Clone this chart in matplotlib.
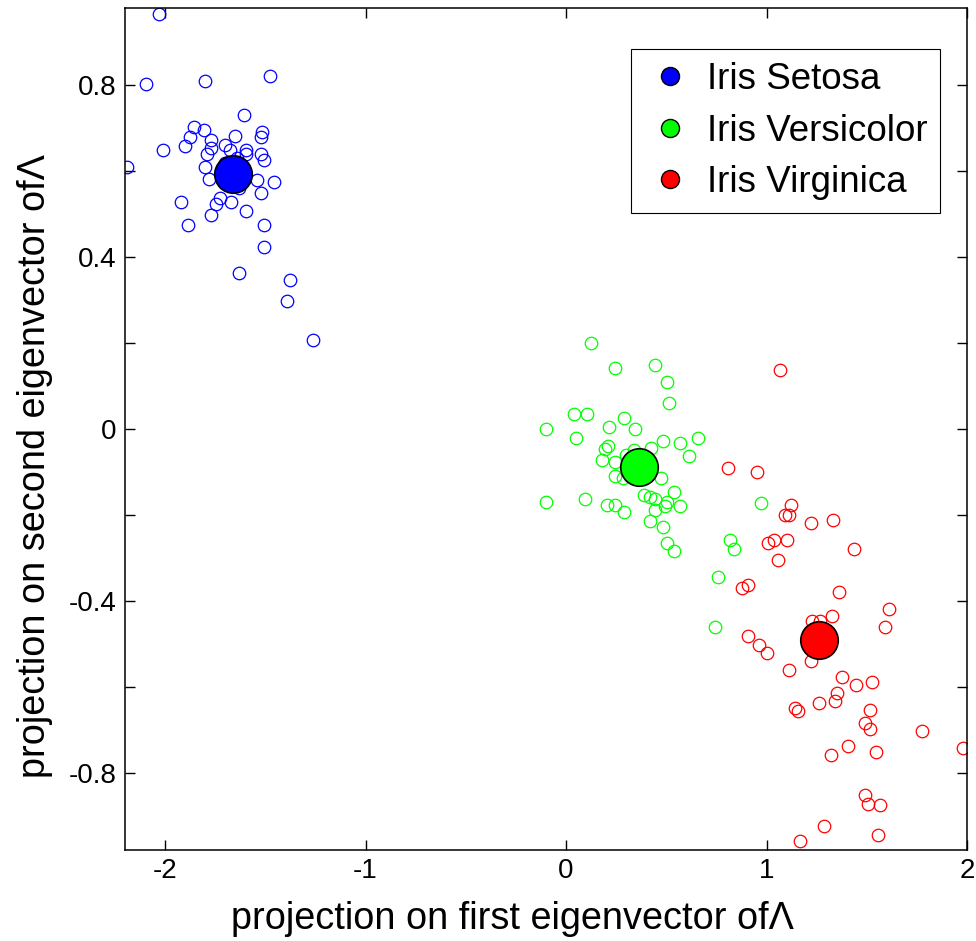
import matplotlib
matplotlib.use('Agg')
import matplotlib.pyplot as plt
from matplotlib.lines import Line2D

plt.rcParams['font.family'] = ['Liberation Sans', 'DejaVu Sans']

CLASSES = ['Iris Setosa', 'Iris Versicolor', 'Iris Virginica']
COLORS = ['#0000ff', '#00ff00', '#ff0000']

# projections (x = first eigenvector, y = second)
setosa_x = [-2.031, -2.093, -1.800, -1.476, -1.606, -1.855, -1.807, -1.875, -1.900, -2.010,
            -1.769, -1.772, -1.792, -1.652, -1.699, -1.676, -1.594, -1.594, -1.516, -1.523,
            -1.521, -1.508, -2.188, -1.800, -1.782, -1.540, -1.458, -1.523, -1.920, -1.727,
            -1.744, -1.669, -1.772, -1.596, -1.885, -1.505, -1.505, -1.633, -1.377, -1.392,
            -1.262, -1.640, -1.700, -1.600, -1.680, -1.630, -1.720, -1.660, -1.620, -1.690]
setosa_y = [0.965, 0.804, 0.809, 0.821, 0.731, 0.702, 0.697, 0.680, 0.659, 0.649,
            0.672, 0.653, 0.640, 0.681, 0.660, 0.649, 0.649, 0.641, 0.692, 0.680,
            0.639, 0.626, 0.609, 0.610, 0.583, 0.579, 0.576, 0.549, 0.528, 0.538,
            0.523, 0.528, 0.497, 0.507, 0.476, 0.476, 0.424, 0.364, 0.346, 0.298,
            0.208, 0.630, 0.620, 0.600, 0.570, 0.560, 0.600, 0.610, 0.580, 0.590]

versicolor_x = [0.123, 0.243, 0.446, 0.502, 0.512, 0.040, 0.105, 0.289, -0.098, 0.214,
                0.344, 0.048, 0.658, 0.484, 0.567, 0.426, 0.209, 0.196, 0.612, 0.181,
                0.243, 0.243, 0.284, 0.475, -0.098, 0.095, 0.206, 0.246, 0.289, 0.389,
                0.417, 0.446, 0.504, 0.492, 0.539, 0.569, 0.446, 0.419, 0.484, 0.502,
                0.539, 0.816, 0.838, 0.760, 0.743, 0.974, 0.300, 0.340, 0.320, 0.400]
versicolor_y = [0.200, 0.143, 0.148, 0.109, 0.061, 0.035, 0.035, 0.026, 0.001, 0.005,
                0.001, -0.020, -0.020, -0.028, -0.033, -0.045, -0.040, -0.047, -0.063, -0.073,
                -0.076, -0.110, -0.114, -0.113, -0.171, -0.163, -0.176, -0.176, -0.193, -0.153,
                -0.158, -0.162, -0.169, -0.180, -0.146, -0.180, -0.189, -0.214, -0.228, -0.266,
                -0.285, -0.258, -0.280, -0.344, -0.461, -0.172, -0.060, -0.050, -0.110, -0.100]

virginica_x = [1.067, 0.806, 0.954, 1.124, 1.091, 1.112, 1.224, 1.333, 1.009, 1.039,
               1.104, 1.057, 1.436, 0.879, 0.909, 1.362, 1.611, 1.593, 1.325, 1.228,
               1.268, 0.908, 0.963, 1.001, 1.220, 1.112, 1.378, 1.445, 1.528, 1.352,
               1.342, 1.260, 1.144, 1.157, 1.518, 1.490, 1.518, 1.777, 1.980, 1.406,
               1.323, 1.546, 1.490, 1.508, 1.566, 1.287, 1.169, 1.555, 1.210, 1.300]
virginica_y = [0.138, -0.090, -0.099, -0.176, -0.200, -0.200, -0.219, -0.211, -0.266, -0.258,
               -0.258, -0.305, -0.280, -0.371, -0.362, -0.380, -0.418, -0.462, -0.435, -0.447,
               -0.447, -0.482, -0.503, -0.522, -0.540, -0.561, -0.578, -0.595, -0.590, -0.615,
               -0.633, -0.637, -0.650, -0.656, -0.655, -0.684, -0.699, -0.703, -0.742, -0.737,
               -0.759, -0.751, -0.851, -0.872, -0.876, -0.923, -0.958, -0.946, -0.500, -0.470]

# class means
mean_x = [-1.661, 0.363, 1.260]
mean_y = [0.593, -0.089, -0.492]

xticks = [-2, -1, 0, 1, 2]
xticklabels = ['-2', '-1', '0', '1', '2']
yticks = [-0.8, -0.6, -0.4, -0.2, 0, 0.2, 0.4, 0.6, 0.8]
yticklabels = ['-0.8', '', '-0.4', '', '0', '', '0.4', '', '0.8']

fig = plt.figure(figsize=(9.76, 9.41), dpi=100)
ax = fig.add_axes([125 / 976, 1 - 850 / 941, 842 / 976, 842 / 941])

groups = [(setosa_x, setosa_y), (versicolor_x, versicolor_y), (virginica_x, virginica_y)]
for (gx, gy), color in zip(groups, COLORS):
    ax.plot(gx, gy, 'o', ms=9, mfc='none', mec=color, mew=0.9)

for mx, my, color in zip(mean_x, mean_y, COLORS):
    ax.plot(mx, my, 'o', ms=27, mfc=color, mec='black', mew=1.2)

ax.set_xlim(-2.2, 2)
ax.set_ylim(-0.98, 0.98)
ax.set_xticks(xticks, xticklabels)
ax.set_yticks(yticks, yticklabels)
ax.tick_params(direction='in', length=7, width=1, top=True, right=True,
               labelsize=20, pad=6)
for spine in ax.spines.values():
    spine.set_linewidth(1.1)

ax.set_xlabel('projection on first eigenvector of\u039b', fontsize=27.3)
ax.set_ylabel('projection on second eigenvector of\u039b', fontsize=27.3)
ax.xaxis.set_label_coords((512 - 125) / 842, -0.061)
ax.yaxis.set_label_coords(-0.0855, 0.456)

handles = [Line2D([], [], ls='none', marker='o', ms=13, mfc=c, mec='black', mew=1)
           for c in COLORS]
leg = ax.legend(handles, CLASSES, loc='upper right', bbox_to_anchor=(0.968, 0.951),
                borderaxespad=0, fontsize=26.5, fancybox=False, framealpha=1,
                edgecolor='black', borderpad=0.35, labelspacing=0.45,
                handlelength=1.4, handletextpad=0.3)
leg.get_frame().set_linewidth(0.8)

fig.savefig('out.png', dpi=100)
